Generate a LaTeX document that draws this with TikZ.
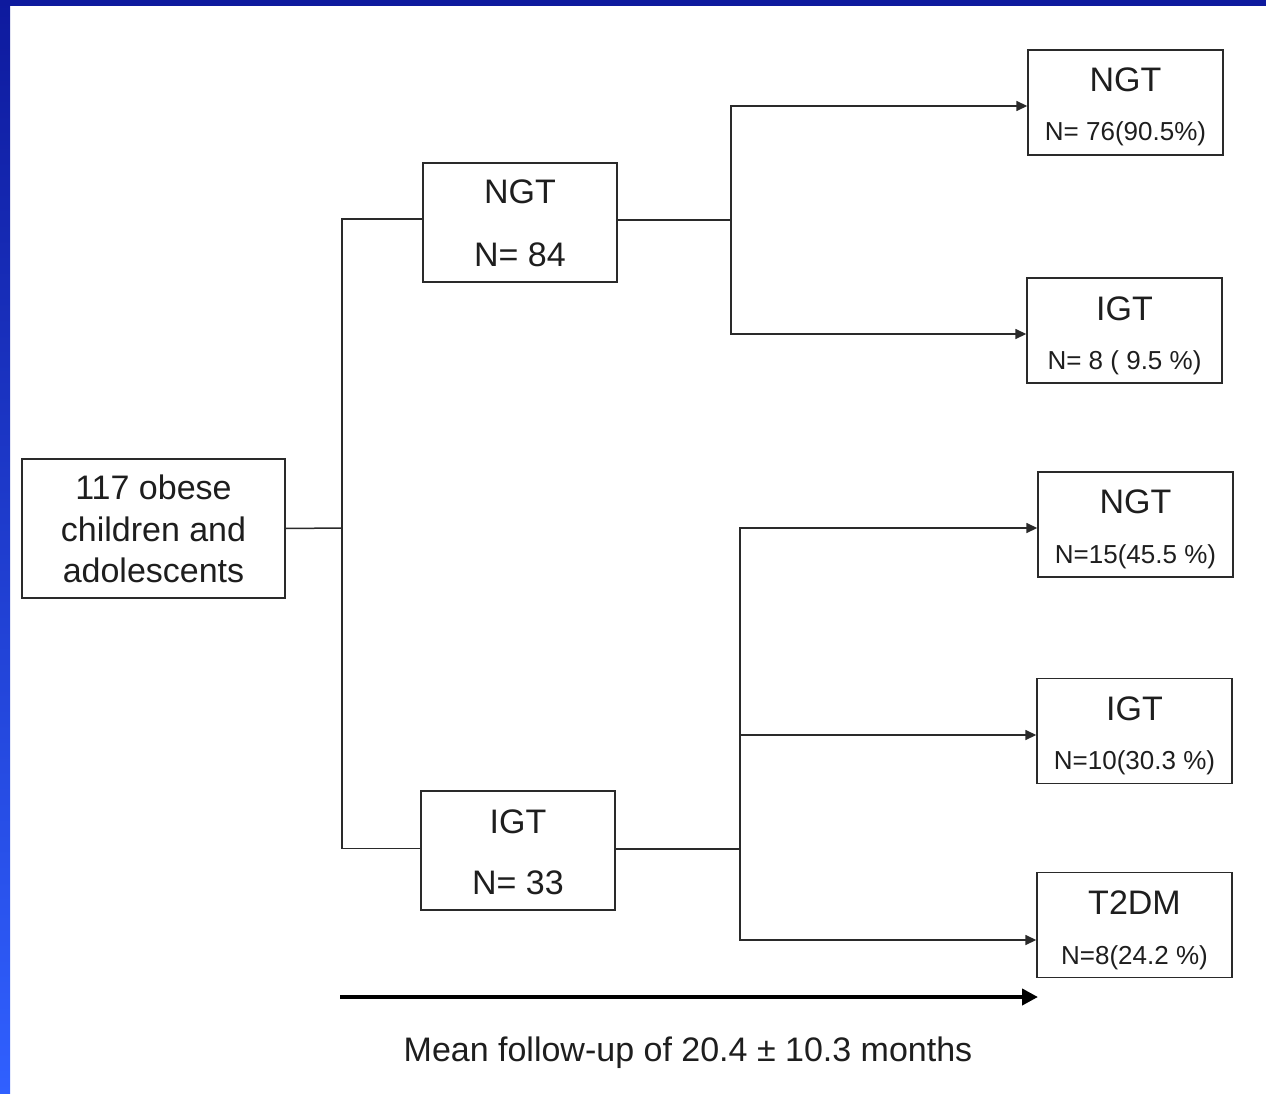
\documentclass[tikz,border=0pt]{standalone}
\usepackage{fontspec}
\setmainfont{Liberation Sans}
\usetikzlibrary{arrows.meta,calc}
\definecolor{bartop}{HTML}{0E1A9E}
\definecolor{barbot}{HTML}{3060FF}
\definecolor{ink}{HTML}{1E1E1E}
\definecolor{wire}{HTML}{2A2A2A}
\begin{document}
\begin{tikzpicture}[x=1pt,y=-1pt,
  bigtxt/.style={font=\fontsize{34}{41.5}\selectfont,text=ink,inner sep=0pt},
  smalltxt/.style={font=\fontsize{26}{30}\selectfont,text=ink,inner sep=0pt},
  boxA/.style={draw=wire,line width=1.4pt,fill=white,minimum width=194pt,minimum height=119pt,inner sep=0pt},
  boxB/.style={draw=wire,line width=1.4pt,fill=white,minimum width=195pt,minimum height=105pt,inner sep=0pt},
  conn/.style={draw=wire,line width=1.5pt},
  arr/.style={conn,-{Triangle[length=11pt,width=10pt]}},
  bigarr/.style={draw=black,line width=4.5pt,-{Triangle[length=16pt,width=16pt]}}]
\useasboundingbox (0,0) rectangle (1266,1094);
\fill[white] (0,0) rectangle (1266,1094);
% blue frame
\shade[top color=bartop,bottom color=barbot] (0,0) rectangle (10,1094);
\fill[bartop] (0,0) rectangle (1266,6);

% root
\node[draw=wire,line width=1.4pt,minimum width=263pt,minimum height=139pt,inner sep=0pt] (root) at (153.5,528.5) {};
\node[bigtxt,align=center] (roottxt) at (153.5,529) {117 obese\\children and\\adolescents};

% middle boxes
\node[boxA] (ngtA) at (520,222.5) {};
\node[bigtxt,anchor=base] (ngtAt) at (520,204) {NGT};
\node[bigtxt,anchor=base] (ngtAn) at (520,266) {N= 84};

\node[boxA] (igtA) at (518,850.5) {};
\node[bigtxt,anchor=base] (igtAt) at (518,833) {IGT};
\node[bigtxt,anchor=base] (igtAn) at (518,894) {N= 33};

% right boxes
\node[boxB] (r1) at (1125.5,102.5) {};
\node[bigtxt,anchor=base] (r1t) at (1125.5,92) {NGT};
\node[smalltxt,anchor=base] (r1n) at (1125.5,141) {N= 76(90.5\%)};

\node[boxB] (r2) at (1124.5,330.5) {};
\node[bigtxt,anchor=base] (r2t) at (1124.5,320) {IGT};
\node[smalltxt,anchor=base] (r2n) at (1124.5,369) {N= 8 ( 9.5 \%)};

\node[boxB] (r3) at (1135.5,524.5) {};
\node[bigtxt,anchor=base] (r3t) at (1135.5,513) {NGT};
\node[smalltxt,anchor=base] (r3n) at (1135.5,563) {N=15(45.5 \%)};

\node[boxB] (r4) at (1134.5,731) {};
\node[bigtxt,anchor=base] (r4t) at (1134.5,720) {IGT};
\node[smalltxt,anchor=base] (r4n) at (1134.5,769) {N=10(30.3 \%)};

\node[boxB] (r5) at (1134.5,925) {};
\node[bigtxt,anchor=base] (r5t) at (1134.5,914) {T2DM};
\node[smalltxt,anchor=base] (r5n) at (1134.5,964) {N=8(24.2 \%)};

% junctions
\coordinate (j1) at (342,528);
\coordinate (j2) at (731,220);
\coordinate (j3) at (740,849);

\draw[conn] (root.east) -- (j1);
\draw[conn] ([yshift=3.5pt]ngtA.west) -| (j1);
\draw[conn] ([yshift=2pt]igtA.west) -| (j1);

\draw[conn] ([yshift=2.5pt]ngtA.east) -- (j2);
\draw[arr] (j2) |- ([yshift=-3.5pt]r1.west);
\draw[arr] (j2) |- ([yshift=-3.5pt]r2.west);

\draw[conn] ([yshift=1.5pt]igtA.east) -- (j3);
\draw[arr] (j3) |- ([yshift=-3.5pt]r3.west);
\draw[arr] (j3) |- ([yshift=-4pt]r4.west);
\draw[arr] (j3) |- ([yshift=-15pt]r5.west);

% follow-up arrow
\coordinate (ts) at (340,997);
\coordinate (te) at (1038,997);
\draw[bigarr] (ts) -- (te);
\node[bigtxt,anchor=base] (cap) at (688,1061) {Mean follow-up of 20.4 ± 10.3 months};
\end{tikzpicture}
\end{document}
